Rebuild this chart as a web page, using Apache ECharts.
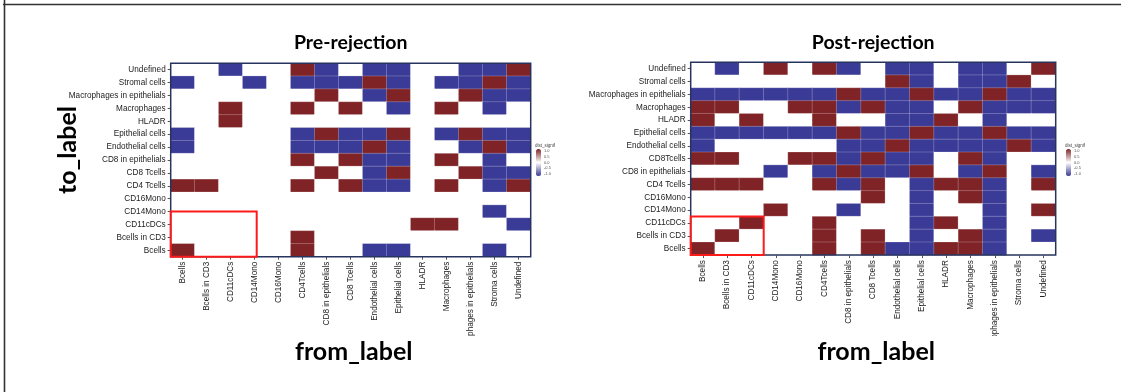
<!DOCTYPE html>
<html>
<head>
<meta charset="utf-8">
<script src="https://cdn.jsdelivr.net/npm/echarts@6/dist/echarts.min.js"></script>
<style>
html,body{margin:0;padding:0;background:#fff;}
#chart{width:1121px;height:392px;}
</style>
</head>
<body>
<div id="chart"></div>
<script>
// ---- data ----
const xCategories = ['Bcells','Bcells in CD3','CD11cDCs','CD14Mono','CD16Mono','CD4Tcells','CD8 in epithelials','CD8 Tcells','Endothelial cells','Epithelial cells','HLADR','Macrophages','Macrophages in epithelials','Stroma cells','Undefined'];

// rows listed top to bottom
const preRows = ['Undefined','Stromal cells','Macrophages in epithelials','Macrophages','HLADR','Epithelial cells','Endothelial cells','CD8 in epithelials','CD8 Tcells','CD4 Tcells','CD16Mono','CD14Mono','CD11cDCs','Bcells in CD3','Bcells'];
const postRows = ['Undefined','Stromal cells','Macrophages in epithelials','Macrophages','HLADR','Epithelial cells','Endothelial cells','CD8Tcells','CD8 in epithelials','CD4 Tcells','CD16Mono','CD14Mono','CD11cDCs','Bcells in CD3','Bcells'];

// values (1 = red, -1 = blue, 0 = white), rows top to bottom, columns follow xCategories
const preValues = [
  [ 0, 0,-1, 0, 0,  1,-1, 0,-1,-1,  0, 0,-1,-1, 1],
  [-1, 0, 0,-1, 0, -1,-1,-1, 1,-1,  0,-1,-1, 1,-1],
  [ 0, 0, 0, 0, 0,  0, 1, 0,-1, 1,  0, 0, 1,-1,-1],
  [ 0, 0, 1, 0, 0,  1, 0, 1, 0,-1,  0, 1, 0,-1, 0],
  [ 0, 0, 1, 0, 0,  0, 0, 0, 0, 0,  0, 0, 0, 0, 0],
  [-1, 0, 0, 0, 0, -1, 1,-1,-1, 1,  0,-1, 1,-1,-1],
  [-1, 0, 0, 0, 0, -1,-1,-1, 1,-1,  0, 0,-1, 1,-1],
  [ 0, 0, 0, 0, 0,  1, 0, 1,-1,-1,  0, 1, 0,-1, 0],
  [ 0, 0, 0, 0, 0,  0, 1, 0,-1, 1,  0, 0, 1,-1,-1],
  [ 1, 1, 0, 0, 0,  1, 0, 1,-1,-1,  0, 1, 0,-1, 1],
  [ 0, 0, 0, 0, 0,  0, 0, 0, 0, 0,  0, 0, 0, 0, 0],
  [ 0, 0, 0, 0, 0,  0, 0, 0, 0, 0,  0, 0, 0,-1, 0],
  [ 0, 0, 0, 0, 0,  0, 0, 0, 0, 0,  1, 1, 0, 0,-1],
  [ 0, 0, 0, 0, 0,  1, 0, 0, 0, 0,  0, 0, 0, 0, 0],
  [ 1, 0, 0, 0, 0,  1, 0, 0,-1,-1,  0, 0, 0,-1, 0]
];
const postValues = [
  [ 0,-1, 0, 1, 0,  1,-1, 0,-1,-1,  0,-1,-1, 0, 1],
  [ 0, 0, 0, 0, 0,  0, 0, 0, 1,-1,  0,-1,-1, 1, 0],
  [-1,-1,-1,-1,-1, -1, 1,-1,-1, 1, -1,-1, 1,-1,-1],
  [ 1, 1, 0, 0, 1,  1,-1, 1,-1,-1,  0, 1,-1,-1,-1],
  [ 1, 0, 1, 0, 0,  1, 0, 0,-1,-1,  1, 0,-1, 0, 0],
  [-1,-1,-1,-1,-1, -1, 1,-1,-1, 1, -1,-1, 1,-1,-1],
  [-1, 0, 0, 0, 0,  0,-1,-1, 1,-1, -1,-1,-1, 1,-1],
  [ 1, 1, 0, 0, 1,  1,-1, 1,-1,-1,  0, 1,-1, 0, 0],
  [ 0, 0, 0,-1, 0, -1, 1,-1,-1, 1,  0,-1, 1, 0,-1],
  [ 1, 1, 1, 0, 0,  1,-1, 1, 0,-1,  1, 1,-1, 0, 1],
  [ 0, 0, 0, 0, 0,  0, 0, 1, 0,-1,  0, 1,-1, 0, 0],
  [ 0, 0, 0, 1, 0,  0,-1, 0, 0,-1,  0, 0,-1, 0, 1],
  [ 0, 0, 1, 0, 0,  1, 0, 0, 0,-1,  1, 0,-1, 0, 0],
  [ 0, 1, 0, 0, 0,  1, 0, 1, 0,-1,  0, 1,-1, 0,-1],
  [ 1, 0, 0, 0, 0,  1, 0, 1,-1,-1,  1, 1,-1, 0, 0]
];
const legendTitle = 'dist_signif';
const legendTicks = ['1.0', '0.5', '0.0', '-0.5', '-1.0'];

// ---- build ----
function toData(rows, values) {
  const n = rows.length, out = [];
  values.forEach((row, r) => row.forEach((v, c) => out.push([c, n - 1 - r, v])));
  return out;
}
const FONT = '"Liberation Sans Narrow","Liberation Sans",Arial,sans-serif';
const BOLD = 'Lato,"Liberation Sans",Arial,sans-serif';
const grids = [
  {left: 170.7, top: 63.3, width: 360, height: 193.4},
  {left: 690.7, top: 62.3, width: 365, height: 192.8}
];
const legendPos = [{left: 536, top: 149}, {left: 1066, top: 149}];
function xAxisFor(i) {
  return {
    type: 'category', gridIndex: i, data: xCategories,
    axisLine: {show: false},
    axisTick: {show: true, length: 3, alignWithLabel: true, lineStyle: {color: '#555'}},
    axisLabel: {rotate: 90, fontSize: 8.2, fontFamily: FONT, color: '#222', margin: 5, interval: 0},
    splitLine: {show: true, lineStyle: {color: '#efeff3', width: 1}}
  };
}
function yAxisFor(i, rows) {
  return {
    type: 'category', gridIndex: i, data: rows.slice().reverse(),
    axisLine: {show: false},
    axisTick: {show: true, length: 3, alignWithLabel: true, lineStyle: {color: '#555'}},
    axisLabel: {fontSize: 8.2, fontFamily: FONT, color: '#222', margin: 5, interval: 0},
    splitLine: {show: true, lineStyle: {color: '#efeff3', width: 1}}
  };
}
function vm(i) {
  return {
    type: 'continuous', seriesIndex: i, min: -1, max: 1,
    inRange: {color: ['#3a3a97', '#ffffff', '#7f2326']},
    orient: 'vertical', left: legendPos[i].left, top: legendPos[i].top, padding: 0,
    itemWidth: 5, itemHeight: 27, calculable: false, text: null, showLabel: false
  };
}
const chart = echarts.init(document.getElementById('chart'), null, {renderer: 'canvas'});
const option = {
  animation: false,
  backgroundColor: '#fff',
  grid: grids.map(g => Object.assign({show: false, containLabel: false, outerBoundsMode: 'none'}, g)),
  xAxis: [xAxisFor(0), xAxisFor(1)],
  yAxis: [yAxisFor(0, preRows), yAxisFor(1, postRows)],
  visualMap: [vm(0), vm(1)],
  series: [
    {type: 'heatmap', xAxisIndex: 0, yAxisIndex: 0, data: toData(preRows, preValues),
     itemStyle: {borderColor: 'rgba(255,255,255,0.22)', borderWidth: 1}},
    {type: 'heatmap', xAxisIndex: 1, yAxisIndex: 1, data: toData(postRows, postValues),
     itemStyle: {borderColor: 'rgba(255,255,255,0.22)', borderWidth: 1}}
  ]
};
chart.setOption(option);

// frames, titles, axis titles, legend labels, highlight boxes
function px(gi, x, y) { return chart.convertToPixel({gridIndex: gi}, [x, y]); }
const g = [];
grids.forEach((gr, i) => {
  // clip long rotated x labels like the original
  g.push({type: 'rect', z: 90, shape: {x: gr.left - 10, y: 336, width: gr.width + 20, height: 60},
          style: {fill: '#fff'}});
  g.push({type: 'rect', z: 100, shape: {x: gr.left, y: gr.top, width: gr.width, height: gr.height},
          style: {fill: null, stroke: '#27345e', lineWidth: 1.5}});
  g.push({type: 'text', z: 100, x: gr.left + gr.width / 2, y: 43,
          style: {text: i === 0 ? 'Pre-rejection' : 'Post-rejection', font: 'bold 19.5px ' + BOLD,
                  fill: '#000', align: 'center', verticalAlign: 'middle'}});
  g.push({type: 'text', z: 100, x: gr.left + gr.width / 2 + 3, y: 352,
          style: {text: 'from_label', font: 'bold 25px ' + BOLD,
                  fill: '#000', align: 'center', verticalAlign: 'middle'}});
  const L = legendPos[i];
  g.push({type: 'text', z: 100, x: L.left - 1, y: L.top - 3,
          style: {text: legendTitle, font: '4.5px ' + FONT, fill: '#444', align: 'left', verticalAlign: 'middle'}});
  legendTicks.forEach((t, k) => {
    g.push({type: 'text', z: 100, x: L.left + 8, y: L.top + 2 + 5.75 * k,
            style: {text: t, font: '4px ' + FONT, fill: '#555', align: 'left', verticalAlign: 'middle'}});
  });
});
g.push({type: 'text', z: 100, x: 68, y: 150, rotation: Math.PI / 2,
        style: {text: 'to_label', font: 'bold 25px ' + BOLD, fill: '#000', align: 'center', verticalAlign: 'middle'}});
// left box: Bcells..CD14Mono center, CD14Mono center..bottom
(function () {
  const gr = grids[0];
  const cw = gr.width / xCategories.length, rh = gr.height / preRows.length;
  const a = px(0, 'Bcells', 'CD14Mono');
  const b = px(0, 'CD14Mono', 'Bcells');
  const x0 = a[0] - cw / 2, y0 = a[1], x1 = b[0] + 2, y1 = b[1] + rh / 2;
  g.push({type: 'rect', z: 101, shape: {x: x0, y: y0, width: x1 - x0, height: y1 - y0},
          style: {fill: null, stroke: '#ff1a1a', lineWidth: 2}});
})();
(function () {
  const gr = grids[1];
  const cw = gr.width / xCategories.length, rh = gr.height / postRows.length;
  const a = px(1, 'Bcells', 'CD11cDCs');
  const b = px(1, 'CD11cDCs', 'Bcells');
  const x0 = a[0] - cw / 2, y0 = a[1] - rh / 2, x1 = b[0] + cw / 2, y1 = b[1] + rh / 2;
  g.push({type: 'rect', z: 101, shape: {x: x0, y: y0, width: x1 - x0, height: y1 - y0},
          style: {fill: null, stroke: '#ff1a1a', lineWidth: 2}});
})();
g.push({type: 'line', z: 100, shape: {x1: 3, y1: 4.5, x2: 1121, y2: 4.5}, style: {stroke: '#333', lineWidth: 1.6}});
g.push({type: 'line', z: 100, shape: {x1: 4.5, y1: 0, x2: 4.5, y2: 392}, style: {stroke: '#333', lineWidth: 1.6}});
chart.setOption({graphic: g});
</script>
</body>
</html>
